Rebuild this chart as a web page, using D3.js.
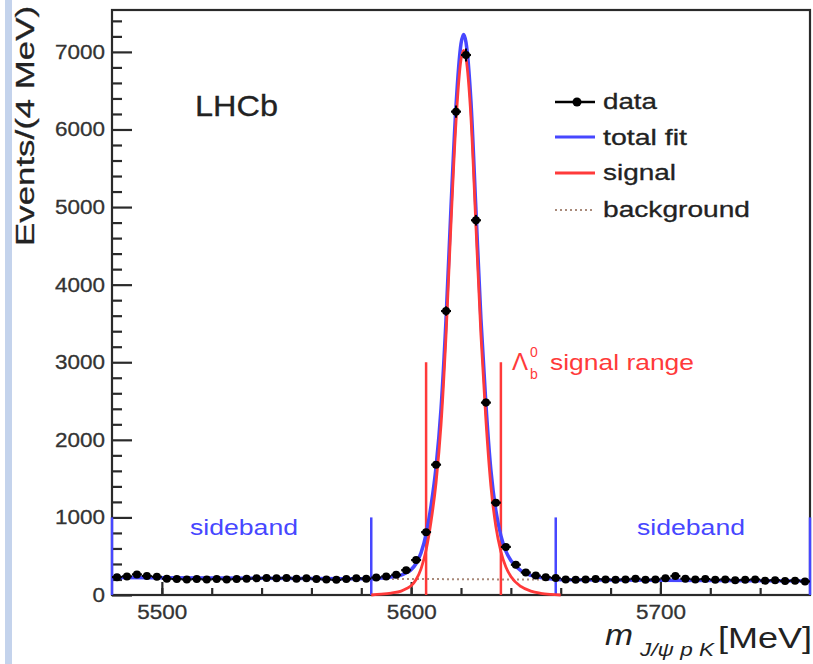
<!DOCTYPE html>
<html><head><meta charset="utf-8">
<script src="https://cdn.jsdelivr.net/npm/d3@7"></script>
<style>
html,body{margin:0;padding:0;background:#fff;}
svg{display:block;}
text{font-family:"Liberation Sans",Arial,Helvetica,sans-serif;}
</style></head>
<body>
<svg id="c" width="813" height="664"></svg>
<script>
// ---- data ----
const binCenters = [5482,5486,5490,5494,5498,5502,5506,5510,5514,5518,5522,5526,5530,5534,5538,5542,5546,5550,5554,5558,5562,5566,5570,5574,5578,5582,5586,5590,5594,5598,5602,5606,5610,5614,5618,5622,5626,5630,5634,5638,5642,5646,5650,5654,5658,5662,5666,5670,5674,5678,5682,5686,5690,5694,5698,5702,5706,5710,5714,5718,5722,5726,5730,5734,5738,5742,5746,5750,5754,5758];
const counts = [230,240,265,245,235,210,205,200,205,200,205,200,205,210,215,220,215,220,210,215,205,200,195,205,215,210,225,240,260,320,450,810,1680,3660,6230,6960,4830,2480,1190,620,390,290,250,230,220,200,195,200,205,200,195,200,210,195,200,215,245,210,200,205,195,200,190,195,200,185,190,180,185,175];

const fitX      = [5480,5520,5560,5584,5588,5592,5596,5598,5600,5602,5604,5606,5608,5610,5612,5614,5616,5618,5620,5621,5622,5624,5626,5628,5630,5632,5634,5636,5638,5640,5644,5648,5652,5656,5660,5700,5760];
const totalFit  = [225,219,213,209,218,233,257,287,327,406,546,785,1155,1655,2405,3555,5005,6305,7105,7225,7125,6355,4955,3555,2455,1605,1085,765,565,445,314,253,225,210,197,191,182];
const sigX      = [5584,5588,5592,5596,5598,5600,5602,5604,5606,5608,5610,5612,5614,5616,5618,5620,5621,5622,5624,5626,5628,5630,5632,5634,5636,5638,5640,5644,5648,5652,5656,5660];
const signalFit = [0,10,25,50,80,120,200,340,580,950,1450,2200,3350,4800,6100,6900,7020,6920,6150,4750,3350,2250,1400,880,560,360,240,110,50,22,8,0];
const bgX   = [5480,5760];
const bgFit = [225,182];

const sidebandLines = [5480,5584,5658,5760];
const sidebandHeight = 1000;
const signalLines = [5606,5636];
const signalHeight = 3000;

const xDomain = [5480,5760];
const yDomain = [0,7540];
const xMajor = [5500,5600,5700];
const xMinor = [5500,5520,5540,5560,5580,5600,5620,5640,5660,5680,5700,5720,5740];
const yMajor = [0,1000,2000,3000,4000,5000,6000,7000];
const yMinor = [200,400,600,800,1200,1400,1600,1800,2200,2400,2600,2800,3200,3400,3600,3800,4200,4400,4600,4800,5200,5400,5600,5800,6200,6400,6600,6800,7200,7400];

const legendItems = ["data","total fit","signal","background"];

// ---- layout ----
const L=112, R=810, T=10, B=595;
const BLUE="#4747ff", RED="#ff3a3a", BROWN="#a98a7a", DARK="#2a2a2a";
const svg=d3.select("#c");
const x=d3.scaleLinear().domain(xDomain).range([L,R]);
const y=d3.scaleLinear().domain(yDomain).range([B,T]);

// left light-blue band
svg.append("rect").attr("x",5).attr("y",0).attr("width",7).attr("height",664).attr("fill","#c4d3ec");

// frame
svg.append("rect").attr("x",L).attr("y",T).attr("width",R-L).attr("height",B-T)
  .attr("fill","none").attr("stroke",DARK).attr("stroke-width",2.2);

// axes
function styleAxis(g){ g.select(".domain").remove(); g.selectAll(".tick line").attr("stroke",DARK).attr("stroke-width",2.2); }
const gy=svg.append("g").attr("transform",`translate(${L},0)`)
  .call(d3.axisLeft(y).tickValues(yMajor).tickSize(-20).tickPadding(7).tickFormat(d3.format("d")));
styleAxis(gy);
svg.append("g").attr("transform",`translate(${L},0)`)
  .call(d3.axisLeft(y).tickValues(yMinor).tickSize(-10).tickFormat("")).call(styleAxis);
const gx=svg.append("g").attr("transform",`translate(0,${B})`)
  .call(d3.axisBottom(x).tickValues(xMajor).tickSize(-13).tickPadding(10).tickFormat(d3.format("d")));
styleAxis(gx);
svg.append("g").attr("transform",`translate(0,${B})`)
  .call(d3.axisBottom(x).tickValues(xMinor).tickSize(-7).tickFormat("")).call(styleAxis);
[gy,gx].forEach(g=>g.selectAll(".tick text").attr("fill","#333").style("font-size","20px")
  .attr("stroke","#333").attr("stroke-width",0.3)
  .attr("textLength",function(){return 12.5*this.textContent.length;}).attr("lengthAdjust","spacingAndGlyphs"));

// axis titles
svg.append("text").attr("transform","translate(34,126) rotate(-90)").attr("text-anchor","middle")
  .style("font-size","26px").attr("fill","#222").attr("stroke","#222").attr("stroke-width",0.3)
  .attr("textLength",240).attr("lengthAdjust","spacingAndGlyphs")
  .text("Events/(4 MeV)");
const xt=svg.append("g").attr("fill","#222");
xt.append("text").attr("x",605).attr("y",645).style("font-size","30px").style("font-style","italic")
  .attr("textLength",28).attr("lengthAdjust","spacingAndGlyphs").text("m");
xt.append("text").attr("x",640).attr("y",656).style("font-size","19px").style("font-style","italic")
  .attr("textLength",74).attr("lengthAdjust","spacingAndGlyphs").text("J/ψ p K");
xt.append("text").attr("x",718).attr("y",648).style("font-size","29px")
  .attr("textLength",94).attr("lengthAdjust","spacingAndGlyphs").text("[MeV]");

// LHCb
svg.append("text").attr("x",195).attr("y",116).style("font-size","29px").attr("fill","#222")
  .attr("stroke","#222").attr("stroke-width",0.3)
  .attr("textLength",83).attr("lengthAdjust","spacingAndGlyphs").text("LHCb");

// sideband & signal range lines
svg.append("g").selectAll("line").data(sidebandLines).join("line")
  .attr("x1",d=>x(d)).attr("x2",d=>x(d)).attr("y1",y(0)).attr("y2",y(sidebandHeight))
  .attr("stroke",BLUE).attr("stroke-width",2.5);
svg.append("g").selectAll("line").data(signalLines).join("line")
  .attr("x1",d=>x(d)).attr("x2",d=>x(d)).attr("y1",y(0)).attr("y2",y(signalHeight))
  .attr("stroke",RED).attr("stroke-width",2.5);

// sideband labels
[[190,108],[637,108]].forEach(([px,w])=>svg.append("text").attr("x",px).attr("y",535)
  .style("font-size","22px").attr("fill",BLUE).attr("textLength",w).attr("lengthAdjust","spacingAndGlyphs").text("sideband"));

// signal range label
const sr=svg.append("g").attr("fill",RED);
sr.append("text").attr("x",512).attr("y",370).style("font-size","24px").text("Λ");
sr.append("text").attr("x",530).attr("y",379).style("font-size","14px").text("b");
sr.append("text").attr("x",530).attr("y",357).style("font-size","14px").text("0");
sr.append("text").attr("x",550).attr("y",370).style("font-size","22px")
  .attr("textLength",144).attr("lengthAdjust","spacingAndGlyphs").text("signal range");

// fit curves
const line=d3.line().x(d=>x(d[0])).y(d=>y(d[1])).curve(d3.curveMonotoneX);
svg.append("path").attr("d",line(bgX.map((v,i)=>[v,bgFit[i]]))).attr("fill","none")
  .attr("stroke",BROWN).attr("stroke-width",2).attr("stroke-dasharray","2,3");
svg.append("path").attr("d",line(fitX.map((v,i)=>[v,totalFit[i]]))).attr("fill","none")
  .attr("stroke",BLUE).attr("stroke-width",3.5);
svg.append("path").attr("d",line(sigX.map((v,i)=>[v,signalFit[i]]))).attr("fill","none")
  .attr("stroke",RED).attr("stroke-width",2.8);

// data points
const dg=svg.append("g");
binCenters.forEach((c,i)=>{
  const n=counts[i], e=Math.sqrt(n);
  dg.append("line").attr("x1",x(c-2)).attr("x2",x(c+2)).attr("y1",y(n)).attr("y2",y(n)).attr("stroke","#000").attr("stroke-width",2.2);
  dg.append("line").attr("x1",x(c)).attr("x2",x(c)).attr("y1",y(n-e)).attr("y2",y(n+e)).attr("stroke","#000").attr("stroke-width",2);
});
dg.selectAll("circle").data(binCenters).join("circle")
  .attr("cx",d=>x(d)).attr("cy",(d,i)=>y(counts[i])).attr("r",4).attr("fill","#000");

// legend
const legY=[102,137,173,210], legBase=[109,145,180,217], legW=[54,84,73,147];
const lg=svg.append("g");
legendItems.forEach((name,i)=>{
  const yy=legY[i];
  const ln=lg.append("line").attr("x1",555).attr("x2",595).attr("y1",yy).attr("y2",yy);
  if(i===0){ ln.attr("stroke","#000").attr("stroke-width",2.5);
    lg.append("circle").attr("cx",577).attr("cy",yy).attr("r",4.5).attr("fill","#000"); }
  else if(i===1) ln.attr("stroke",BLUE).attr("stroke-width",3);
  else if(i===2) ln.attr("stroke",RED).attr("stroke-width",3);
  else ln.attr("stroke",BROWN).attr("stroke-width",2).attr("stroke-dasharray","2,3");
  lg.append("text").attr("x",603).attr("y",legBase[i]).style("font-size","22px").attr("fill","#222")
    .attr("stroke","#222").attr("stroke-width",0.3)
    .attr("textLength",legW[i]).attr("lengthAdjust","spacingAndGlyphs").text(name);
});
</script>
</body></html>
